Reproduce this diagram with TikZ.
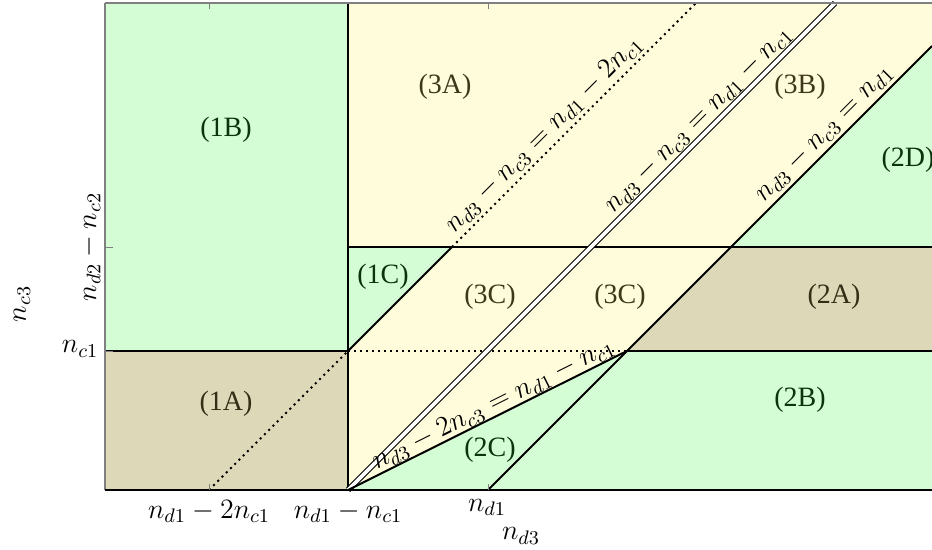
\RequirePackage{fix-cm}
\documentclass[tikz,border=0pt]{standalone}
\usepackage[no-math]{fontspec}
\setmainfont{Liberation Serif}
\definecolor{cgreen}{RGB}{213,253,213}
\definecolor{ctan}{RGB}{221,216,184}
\definecolor{cyellow}{RGB}{255,252,220}
\definecolor{tgreen}{RGB}{12,52,12}
\definecolor{ttan}{RGB}{52,46,22}
\definecolor{tyellow}{RGB}{62,56,26}
\tikzset{
  lbl/.style={font=\fontsize{14}{17}\selectfont, inner sep=1pt},
  glab/.style={lbl, text=tgreen},
  tlab/.style={lbl, text=ttan},
  ylab/.style={lbl, text=tyellow},
  bound/.style={black, line width=1pt},
  dotline/.style={black, line width=1pt, dotted},
  dline/.style={black, line width=0.6pt, double=white, double distance=1.8pt},
  frameline/.style={gray, line width=0.75pt},
  tick/.style={gray, line width=0.4pt},
  lineLabel/.style={lbl, sloped, above, inner sep=1.5pt}
}
\begin{document}
\begin{tikzpicture}[x=0.5pt,y=-0.5pt]
\useasboundingbox (0,0) rectangle (932,550);
% coordinates
\coordinate (TL) at (105,3);
\coordinate (TR) at (932,3);
\coordinate (BR) at (932,490);
\coordinate (O) at (105,490);
\coordinate (L1) at (105,351);
\coordinate (L2) at (105,247);
\coordinate (A) at (348,490);
\coordinate (A1) at (348,351);
\coordinate (A2) at (348,247);
\coordinate (Atop) at (348,3);
\coordinate (P) at (209,490);
\coordinate (Q) at (452,247);
\coordinate (Qtop) at (696,3);
\coordinate (Dtop) at (835,3);
\coordinate (N) at (488,490);
\coordinate (M) at (627,351);
\coordinate (K) at (731,247);
\coordinate (R46) at (932,46);
\coordinate (R351) at (932,351);
\coordinate (R247) at (932,247);
% fills
\fill[cgreen] (TL) rectangle (A1);
\fill[ctan] (L1) rectangle (A);
\fill[cgreen] (A1) -- (A2) -- (Q) -- cycle;
\fill[cyellow] (A2) -- (Atop) -- (TR) -- (R46) -- (K) -- cycle;
\fill[cyellow] (Q) -- (K) -- (M) -- (A) -- (A1) -- cycle;
\fill[ctan] (M) -- (R351) -- (R247) -- (K) -- cycle;
\fill[cgreen] (K) -- (R46) -- (R247) -- cycle;
\fill[cgreen] (M) -- (R351) -- (BR) -- (N) -- cycle;
\fill[cgreen] (A) -- (M) -- (N) -- cycle;
% region labels
\node[glab] (l1B) at (226,130) {(1B)};
\node[tlab] (l1A) at (226,404) {(1A)};
\node[glab] (l1C) at (383,277) {(1C)};
\node[ylab] (l3A) at (445,87) {(3A)};
\node[ylab] (l3C) at (490,297) {(3C)};
\node[ylab] (l3Cb) at (620,297) {(3C)};
\node[ylab] (l3B) at (800,87) {(3B)};
\node[glab] (l2D) at (908,160) {(2D)};
\node[tlab] (l2A) at (834,297) {(2A)};
\node[glab] (l2B) at (800,400) {(2B)};
\node[glab] (l2C) at (490,450) {(2C)};
% boundaries
\draw[bound] (L1) -- (A1);
\draw[bound] (A) -- (Atop);
\draw[bound] (A2) -- (R247);
\draw[bound] (A1) -- (Q);
\draw[dotline] (P) -- (A1);
\draw[dotline] (Q) -- node[lineLabel, pos=0.42] (eq1) {$n_{d3}-n_{c3}=n_{d1}-2n_{c1}$} (Qtop);
\draw[dotline] (A1) -- (M);
\draw[bound] (M) -- (R351);
\draw[dline] (A) -- node[lineLabel, pos=0.74] (eq2) {$n_{d3}-n_{c3}=n_{d1}-n_{c1}$} (Dtop);
\draw[bound] (A) -- node[lineLabel, pos=0.54, inner sep=0pt] (eq4) {$n_{d3}-2n_{c3}=n_{d1}-n_{c1}$} (M);
\draw[bound] (N) -- node[lineLabel, pos=0.78] (eq3) {$n_{d3}-n_{c3}=n_{d1}$} (R46);
% frame
\draw[frameline] (TL) -- (TR);
\draw[frameline] (TL) -- (O);
\draw[black, line width=1pt] (O) -- (BR);
% ticks
\foreach \x in {209,488} {
  \draw[tick] (\x,490) -- (\x,484);
  \draw[tick] (\x,3) -- (\x,9);
}
\foreach \y in {247,351} {
  \draw[tick] (105,\y) -- (113,\y);
}
% axis labels
\node[lbl, anchor=base] (tx1) at (209,518) {$n_{d1}-2n_{c1}$};
\node[lbl, anchor=base] (tx2) at (348,518) {$n_{d1}-n_{c1}$};
\node[lbl, anchor=base] (tx3) at (487,511) {$n_{d1}$};
\node[lbl] (xlab) at (521,536) {$n_{d3}$};
\node[lbl] (ty1) at (80,349) {$n_{c1}$};
\node[lbl, rotate=90] (ty2) at (90,247) {$n_{d2}-n_{c2}$};
\node[lbl, rotate=90] (ylab) at (22,304) {$n_{c3}$};
\end{tikzpicture}
\end{document}
